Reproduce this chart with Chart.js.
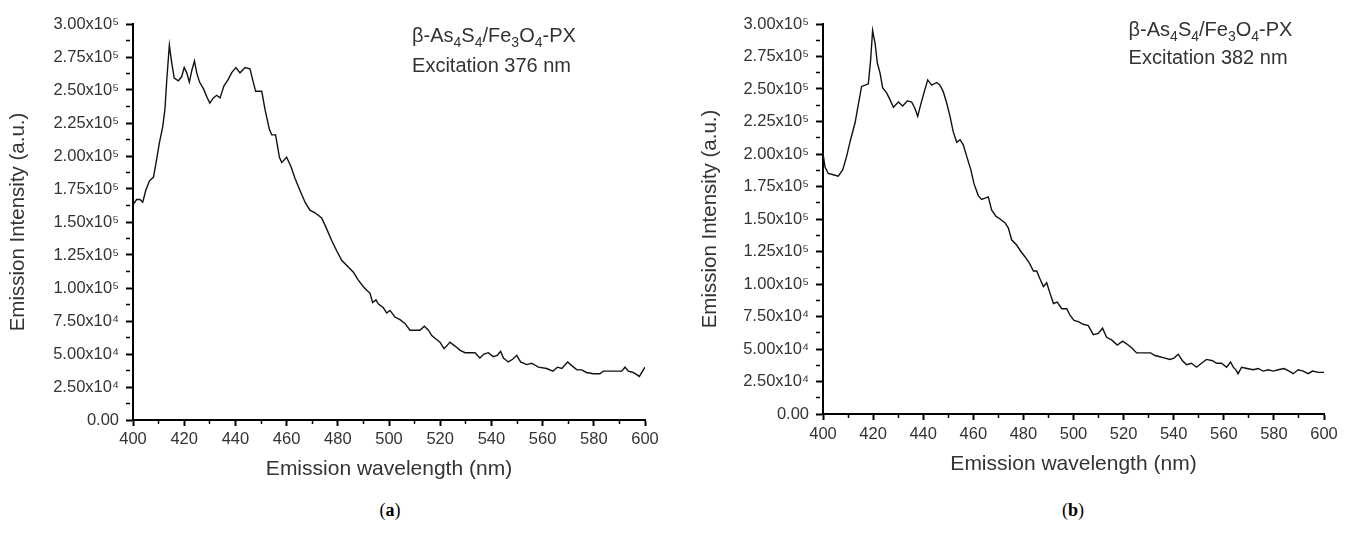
<!DOCTYPE html>
<html>
<head>
<meta charset="utf-8">
<script src="https://cdn.jsdelivr.net/npm/chart.js@4.4.0/dist/chart.umd.min.js"></script>
<style>
    body { margin: 0; background: #fff; width: 1349px; height: 535px; position: relative; overflow: hidden; }
    .panel { position: absolute; top: 0; height: 490px; }
    .caption { position: absolute; top: 500px; width: 40px; text-align: center;
               font-family: "Liberation Serif", serif; font-size: 18px; color: #000; }
</style>
</head>
<body>
<div class="panel" style="left:0; width:670px;"><canvas id="chartA"></canvas></div>
<div class="panel" style="left:690px; width:659px;"><canvas id="chartB"></canvas></div>
<div class="caption" style="left:370px;">(<b>a</b>)</div>
<div class="caption" style="left:1053px;">(<b>b</b>)</div>

<script type="text/javascript">
    // (a) excitation 376 nm
    const wavelengthA = [400,401.4,402.7,403.8,405,406.4,408,409.2,410.3,411.6,412.5,413.2,414.2,415.1,416.1,417.7,419,420,421,422,
        423,424,424.9,426,427.5,428.8,430,431.4,432.7,434,435.5,437.2,438.5,440.2,441.8,443.8,445.7,446.7,447.9,450.3,
        451.6,453.3,454.2,455.7,457.2,458.1,460,461.7,463.3,465.2,467.2,469.1,471.1,473.7,475.6,477.6,479.6,481.5,484.1,486.1,
        488,490,491.5,492.6,493.6,494.9,495.8,497.8,499.1,500.4,502.3,504.3,506.3,508.2,510.8,512.1,513.8,515.4,516.7,518.6,
        519.9,521.5,522.5,523.8,525.8,527.7,529.7,531.6,533.6,535.5,537.1,538.8,540.7,542.3,543.6,544.7,546.6,548.3,549.9,551.4,
        553.8,555.7,558.4,561.6,564,565.8,567.5,569.8,571.5,573.4,575.3,577.1,579.8,582.4,583.7,587.6,590.9,592.2,593.5,595.4,
        597.8,600];
    const intensityA = [163000,167000,167000,165000,174000,181000,184000,197000,210000,222000,236000,258000,284000,271000,259000,257000,260000,267000,263000,256000,
        265000,272000,263000,256000,251000,245000,240000,244000,246000,244000,253000,258000,263000,267000,263000,267000,266000,258000,249000,249000,
        235000,220000,216000,216000,199000,195000,199000,192000,183000,174000,165000,159000,157000,153000,145000,136000,128000,121000,116000,112000,
        106000,101000,98000,96000,89000,91000,88000,85000,81000,83000,78000,76000,73000,68000,68000,68000,71000,68000,64000,61000,
        59000,54000,56000,59000,56000,53000,51000,51000,51000,47000,50000,51000,48000,49000,52000,47000,44000,46000,49000,44000,
        42000,43000,40000,39000,37000,40000,39000,44000,41000,38000,38000,36000,35000,35000,37000,37000,37000,40000,37000,36000,
        33000,40000];

    // (b) excitation 382 nm
    const wavelengthB = [400,400.8,402.1,404.1,406.1,407.9,409.4,411,412.8,414.1,415.4,416.8,418.1,419,419.8,420.8,421.7,422.8,423.8,425.4,
        426.7,428.1,430.1,431.8,433.7,435.4,436.7,437.8,439,440.3,441.8,443.4,445.4,446.7,448,449.4,450.7,452,453.4,454.7,
        456,457.4,459,460.3,462,463.3,464.7,466,467.3,469.1,470.7,472.7,474,475.3,477.3,479,480.6,482.4,484,485.3,
        486.6,488,489.3,490.6,492,493.5,495.3,497.3,498.6,500.2,501.9,503.9,505.9,507.9,509.9,511.6,513.2,515.2,517.5,519.6,
        521.2,523.2,525.2,527.2,528.9,530.8,532.5,534.5,536.5,538.5,540.1,541.8,543.5,545.1,547.1,549.1,551.1,553.1,555.5,557.1,
        559.1,561.1,562.7,563.8,564.8,565.7,567.1,569.3,571.7,573.7,575.7,577.7,579.7,581.7,584,586.1,587.7,589.7,591.7,593.7,
        595.4,597.7,600];
    const intensityB = [200500,190000,185000,184000,183000,188000,198000,211000,224000,238000,252000,253000,254000,272000,295000,285000,270000,262000,251000,247000,
        242000,236000,240000,237000,241000,240000,235000,229000,238000,247000,257000,253000,255000,253000,248000,239000,229000,217000,209000,211000,
        207000,198000,188000,177000,168000,165000,166000,167000,157000,152000,150000,147000,143000,134000,130000,125000,121000,116000,110000,110000,
        104000,98000,101000,93000,85000,86000,81000,81000,76000,72000,71000,69000,68000,61000,62000,66000,59000,57000,53000,56000,
        54000,51000,47000,47000,47000,47000,45000,44000,43000,42000,43000,46000,41000,38000,39000,36000,39000,42000,41000,39000,
        39000,36000,40000,36000,34000,31000,36000,35000,34000,35000,33000,34000,33000,34000,35000,33000,31000,34000,33000,31000,
        33000,32000,32000];

    const sampleName = [['β-As', 0], ['4', 1], ['S', 0], ['4', 1], ['/Fe', 0], ['3', 1], ['O', 0], ['4', 1], ['-PX', 0]];
    const excitationA = 'Excitation 376 nm';
    const excitationB = 'Excitation 382 nm';

    const textColor = '#333';

    function yLabel(v) {
        if (v % 25000 !== 0) return '';
        if (v === 0) return '0.00';
        if (v >= 100000) return (v / 100000).toFixed(2) + 'x10\u2075';
        return (v / 10000).toFixed(2) + 'x10\u2074';
    }

    // note text in the upper right, with subscripts
    const notePlugin = {
        id: 'note',
        afterDraw(chart, args, opts) {
            const ctx = chart.ctx;
            let x = chart.scales.x.getPixelForValue(opts.x);
            const y1 = chart.scales.y.getPixelForValue(opts.y1);
            const y2 = chart.scales.y.getPixelForValue(opts.y2);
            ctx.save();
            ctx.fillStyle = textColor;
            ctx.textBaseline = 'alphabetic';
            ctx.textAlign = 'left';
            sampleName.forEach(([t, sub]) => {
                ctx.font = (sub ? '14px' : '20px') + ' "Liberation Sans", Arial, sans-serif';
                ctx.fillText(t, x, sub ? y1 + 5 : y1);
                x += ctx.measureText(t).width;
            });
            ctx.font = '20px "Liberation Sans", Arial, sans-serif';
            ctx.fillText(opts.text, chart.scales.x.getPixelForValue(opts.x), y2);
            ctx.restore();
        }
    };

    function makeChart(id, wl, inten, cfg) {
        const points = wl.map((w, i) => ({x: w, y: inten[i]}));
        return new Chart(document.getElementById(id), {
            type: 'line',
            data: {
                datasets: [{
                    data: points,
                    borderColor: '#111',
                    borderWidth: 1.4,
                    pointRadius: 0,
                    fill: false,
                    tension: 0
                }]
            },
            plugins: [notePlugin],
            options: {
                responsive: true,
                maintainAspectRatio: false,
                animation: false,
                layout: { padding: { top: 24, right: 25, left: 0, bottom: 0 } },
                scales: {
                    x: {
                        type: 'linear',
                        min: 400, max: 600,
                        afterFit: s => { s.height = cfg.xHeight; },
                        border: { display: true, color: '#000', width: 2 },
                        grid: {
                            drawOnChartArea: false, drawTicks: true, tickLength: 6, tickColor: '#000',
                            tickWidth: c => (c.tick && c.tick.value % 20 === 0) ? 2 : 1.5,
                            tickBorderDash: c => (c.tick && c.tick.value % 20 === 0) ? [] : [3, 20]
                        },
                        ticks: {
                            stepSize: 10, autoSkip: false, maxRotation: 0, padding: cfg.xPad, color: textColor,
                            font: { family: '"Liberation Sans", Arial, sans-serif', size: 16.5 },
                            callback: v => v % 20 === 0 ? String(v) : ''
                        },
                        title: {
                            display: true, text: 'Emission wavelength (nm)', color: textColor,
                            font: { family: '"Liberation Sans", Arial, sans-serif', size: 21 },
                            padding: { top: 0, bottom: cfg.xTitlePad }
                        }
                    },
                    y: {
                        min: 0, max: 300000,
                        afterFit: s => { s.width = 133; },
                        border: { display: true, color: '#000', width: 2 },
                        grid: {
                            drawOnChartArea: false, drawTicks: true, tickLength: 7, tickColor: '#000',
                            tickWidth: c => (c.tick && c.tick.value % 25000 === 0) ? 2 : 1.5,
                            tickBorderDash: c => (c.tick && c.tick.value % 25000 === 0) ? [] : [4, 20]
                        },
                        ticks: {
                            stepSize: 12500, autoSkip: false, padding: 7, color: textColor,
                            font: { family: '"Liberation Sans", Arial, sans-serif', size: 16.5 },
                            callback: yLabel
                        },
                        title: {
                            display: true, text: 'Emission Intensity (a.u.)', color: textColor,
                            font: { family: '"Liberation Sans", Arial, sans-serif', size: 20.5 },
                            padding: { top: cfg.yTitlePad, bottom: 0 }
                        }
                    }
                },
                plugins: {
                    legend: { display: false },
                    tooltip: { enabled: false },
                    note: cfg.note
                }
            }
        });
    }

    makeChart('chartA', wavelengthA, intensityA, {
        xHeight: 70, xPad: 4, xTitlePad: 8, yTitlePad: 6,
        note: { x: 509, y1: 286000, y2: 264000, text: excitationA }
    });
    makeChart('chartB', wavelengthB, intensityB, {
        xHeight: 76, xPad: 5, xTitlePad: 13, yTitlePad: 8,
        note: { x: 522, y1: 291000, y2: 269000, text: excitationB }
    });
</script>
</body>
</html>
